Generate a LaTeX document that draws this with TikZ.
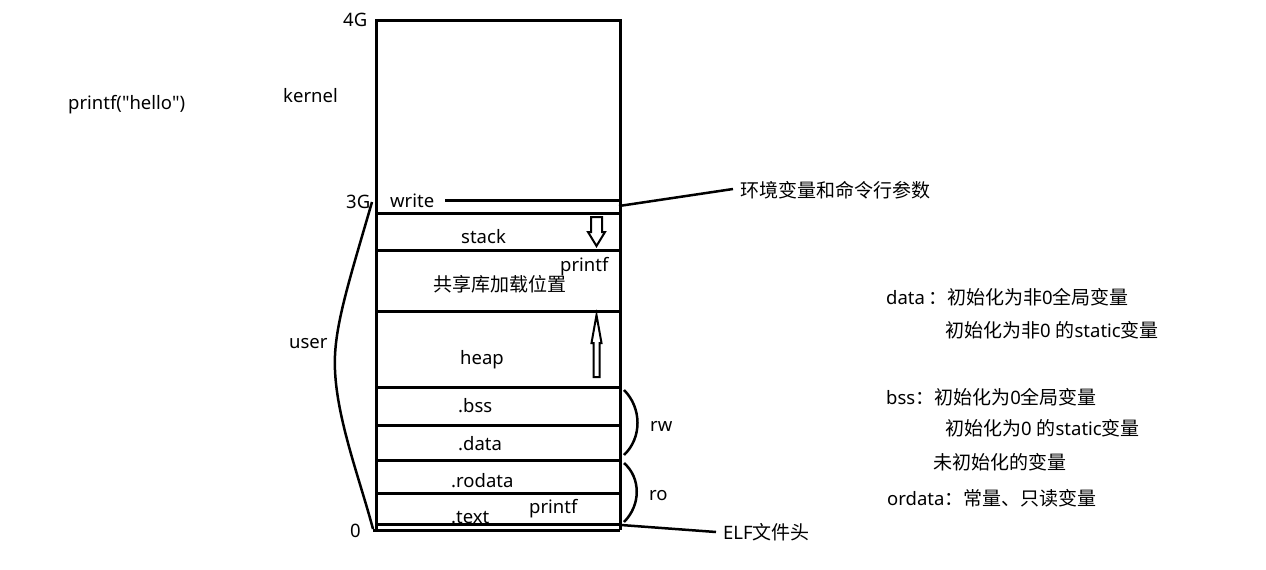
\documentclass[tikz,border=0pt]{standalone}
\usepackage{fontspec}
\setmainfont{Noto Sans}
\newfontfamily\plainfont{Noto Sans}[Ligatures=TeXOff]
\newfontfamily\cjk{Noto Sans CJK SC}
\begin{document}
\begin{tikzpicture}[x=1pt,y=1pt,
  lbl/.style={inner sep=0pt,anchor=base west,font=\fontsize{18.5}{20}\selectfont},
  rtxt/.style={inner sep=0pt,anchor=west,font=\fontsize{18.5}{20}\selectfont},
  thick3/.style={line width=3pt},
  brc/.style={line width=2.5pt},
  hollow/.style={line width=2pt,fill=white,line join=miter}]
\useasboundingbox (0,0) rectangle (1266,-570);
% box
\coordinate (tl) at (376,-20);
\coordinate (tr) at (620,-20);
\coordinate (bl) at (376,-530);
\coordinate (br) at (620,-530);
\draw[thick3] (bl) -- (tl) -- (tr) -- (br);
\coordinate (b0) at (373,-530);
\draw[thick3] (b0) -- (br);
\coordinate (w1) at (445,-200); \coordinate (w2) at (620,-200);
\draw[thick3] (w1) -- (w2);
\foreach \yy in {213,250,311,387,425,460,493,524}{
  \draw[thick3] (376,-\yy) -- (620,-\yy);
}
% labels
\node[lbl] (g4) at (343,-27) {4G};
\node[lbl] (kern) at (283,-102) {kernel};
\node[lbl,font=\plainfont\fontsize{18.5}{20}\selectfont] (ph) at (68,-109) {printf("hello")};
\node[lbl] (g3) at (346,-208) {3G};
\node[lbl] (wr) at (390,-207) {write};
\node[lbl] (st) at (461,-243) {stack};
\node[lbl] (pf1) at (560,-271) {printf};
\node[rtxt,font=\cjk\fontsize{19}{20}\selectfont] (shl) at (433,-284) {共享库加载位置};
\node[lbl] (usr) at (289,-348) {user};
\node[lbl] (hp) at (460,-364) {heap};
\node[lbl] (bss) at (458,-412) {.bss};
\node[lbl] (dat) at (458,-450) {.data};
\node[lbl] (rod) at (451,-487) {.rodata};
\node[lbl] (txt) at (451,-523) {.text};
\node[lbl] (pf2) at (529,-513) {printf};
\node[lbl] (rw) at (650,-431) {rw};
\node[lbl] (ro) at (649,-500) {ro};
\node[lbl] (zero) at (350,-537) {0};
\node[rtxt,font=\cjk\fontsize{19}{20}\selectfont] (env) at (740,-190) {环境变量和命令行参数};
\node[rtxt] (elf) at (723,-532) {ELF{\cjk\fontsize{19}{20}\selectfont 文件头}};
% right notes
\node[rtxt] (n1) at (886,-297) {data\,{\cjk\fontsize{19}{20}\selectfont ：初始化为非}0{\cjk\fontsize{19}{20}\selectfont 全局变量}};
\node[rtxt] (n2) at (945,-330) {{\cjk\fontsize{19}{20}\selectfont 初始化为非}0 {\cjk\fontsize{19}{20}\selectfont 的}static{\cjk\fontsize{19}{20}\selectfont 变量}};
\node[rtxt] (n3) at (886,-397) {bss{\cjk\fontsize{19}{20}\selectfont ：初始化为}0{\cjk\fontsize{19}{20}\selectfont 全局变量}};
\node[rtxt] (n4) at (945,-428) {{\cjk\fontsize{19}{20}\selectfont 初始化为}0 {\cjk\fontsize{19}{20}\selectfont 的}static{\cjk\fontsize{19}{20}\selectfont 变量}};
\node[rtxt] (n5) at (933,-462) {{\cjk\fontsize{19}{20}\selectfont 未初始化的变量}};
\node[rtxt] (n6) at (887,-498) {ordata{\cjk\fontsize{19}{20}\selectfont ：常量、只读变量}};
% leader lines
\coordinate (envpt) at (619,-206);
\draw[line width=2.5pt] (envpt) -- ([xshift=-7pt,yshift=1pt]env.west);
\coordinate (elfpt) at (621,-525);
\draw[line width=2.5pt] (elfpt) -- ([xshift=-7pt]elf.west);
% braces
\coordinate (u1) at (372,-202);
\coordinate (u2) at (373,-529);
\draw[brc] (u1) .. controls (348,-285) and (333,-330) .. (335,-370) .. controls (337,-420) and (360,-480) .. (u2);
\coordinate (rw1) at (624,-390); \coordinate (rw2) at (624,-455);
\draw[brc] (rw1) .. controls (642,-408) and (642,-438) .. (rw2);
\coordinate (ro1) at (624,-463); \coordinate (ro2) at (624,-522);
\draw[brc] (ro1) .. controls (641,-478) and (641,-505) .. (ro2);
% hollow arrows
\draw[hollow] (591,-217) -- (602,-217) -- (602,-232) -- (605,-232) -- (596.5,-246) -- (588,-232) -- (591,-232) -- cycle;
\draw[hollow] (596.5,-315) -- (601.5,-343) -- (599.5,-343) -- (599.5,-377) -- (593.5,-377) -- (593.5,-343) -- (591.5,-343) -- cycle;
\end{tikzpicture}
\end{document}
